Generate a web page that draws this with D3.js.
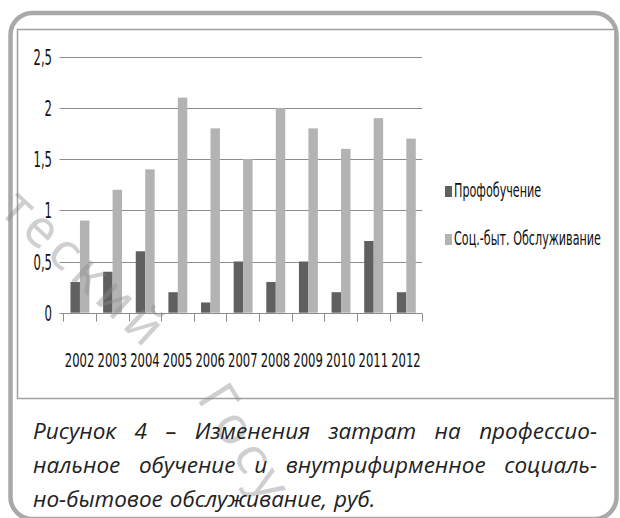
<!DOCTYPE html>
<html><head><meta charset="utf-8">
<script src="https://cdn.jsdelivr.net/npm/d3@7/dist/d3.min.js"></script>
<style>body{margin:0;background:#fff}svg{display:block}</style>
</head><body>
<svg id="c" width="620" height="518"></svg>
<script>
const years = ["2002","2003","2004","2005","2006","2007","2008","2009","2010","2011","2012"];
const profobuchenie = [0.3,0.4,0.6,0.2,0.1,0.5,0.3,0.5,0.2,0.7,0.2];
const socByt = [0.9,1.2,1.4,2.1,1.8,1.5,2.0,1.8,1.6,1.9,1.7];
const seriesNames = ["Профобучение","Соц.-быт. Обслуживание"];
const yTicks = [0,0.5,1,1.5,2,2.5];
const yTickLabels = ["0","0,5","1","1,5","2","2,5"];
const captionLines = [
  ["Рисунок","4","–","Изменения","затрат","на","профессио-"],
  ["нальное","обучение","и","внутрифирменное","социаль-"],
  ["но-бытовое","обслуживание,","руб."]
];
const watermarkParts = ["теский","Госу"];

const colors = ["#606060","#b3b3b3"];
const gridColor = "#8c8c8c";
const chartFont = "'Liberation Sans Narrow','DejaVu Sans Condensed','Liberation Sans',sans-serif";

const svg = d3.select("#c");

// outer rounded frame
svg.append("rect").attr("x",10.5).attr("y",13).attr("width",606).attr("height",506)
  .attr("rx",22).attr("ry",22).attr("fill","#fff").attr("stroke","#a9a9a9").attr("stroke-width",4.5);
// inner chart box
svg.append("rect").attr("x",17.5).attr("y",29.5).attr("width",597.5).attr("height",369)
  .attr("fill","#fff").attr("stroke","#a0a0a0").attr("stroke-width",1.5);

const x = d3.scaleBand().domain(years).range([63.3,422.3]).padding(0);
const x1 = d3.scaleBand().domain([0,1]).range([x.bandwidth()*0.22, x.bandwidth()*0.80]).padding(0);
const y = d3.scaleLinear().domain([0,2.5]).range([312.7,56.7]);

function squeeze(sel, target, sample) {
  let k = 1;
  sel.each(function(){ if (this.textContent === sample) k = target / this.getComputedTextLength(); });
  sel.each(function(){
    const w = this.getComputedTextLength();
    d3.select(this).attr("textLength", w*k).attr("lengthAdjust","spacingAndGlyphs");
  });
}

// gridlines
const grid = svg.append("g");
grid.selectAll("line").data(yTicks).join("line")
  .attr("x1",59.5).attr("x2",x.range()[1])
  .attr("y1",d=>Math.round(y(d))+0.5).attr("y2",d=>Math.round(y(d))+0.5)
  .attr("stroke",gridColor).attr("stroke-width",1);

// x axis ticks
const xAxis = d3.axisBottom(x).tickSize(0).tickFormat("");
const xa = svg.append("g").attr("transform",`translate(0,${Math.round(y(0))+0.5})`).call(xAxis);
xa.select(".domain").remove();
const bounds = years.map(d=>x(d)).concat([x.range()[1]]);
xa.selectAll(".bt").data(bounds).join("line").attr("class","bt")
  .attr("x1",d=>Math.round(d)+0.5).attr("x2",d=>Math.round(d)+0.5)
  .attr("y1",0).attr("y2",8).attr("stroke",gridColor);

// bars
const groups = svg.append("g").selectAll("g").data(years).join("g")
  .attr("transform",d=>`translate(${x(d)},0)`);
groups.selectAll("rect").data((d,i)=>[profobuchenie[i],socByt[i]]).join("rect")
  .attr("x",(d,j)=>x1(j)).attr("width",x1.bandwidth())
  .attr("y",d=>y(d)).attr("height",d=>y(0)-y(d))
  .attr("fill",(d,j)=>colors[j]);

// x labels
const xl = svg.append("g").selectAll("text").data(years).join("text")
  .attr("x",d=>x(d)+x.bandwidth()/2).attr("y",367)
  .attr("text-anchor","middle").attr("font-family",chartFont).attr("font-size",20)
  .attr("fill","#111").text(d=>d);
squeeze(xl, 29.5, "2002");

// y labels
const yl = svg.append("g").selectAll("text").data(yTicks).join("text")
  .attr("x",52).attr("y",d=>y(d)+8)
  .attr("text-anchor","end").attr("font-family",chartFont).attr("font-size",22)
  .attr("fill","#111").text((d,i)=>yTickLabels[i]);
squeeze(yl, 18.5, "2,5");

// legend
const lg = svg.append("g");
const legY = [197,245];
lg.selectAll("rect").data(seriesNames).join("rect")
  .attr("x",445).attr("y",(d,i)=>legY[i]-11).attr("width",7).attr("height",11)
  .attr("fill",(d,i)=>colors[i]);
const lt = lg.selectAll("text").data(seriesNames).join("text")
  .attr("x",454).attr("y",(d,i)=>legY[i])
  .attr("font-family",chartFont).attr("font-size",20).attr("fill","#111").text(d=>d);
squeeze(lt, 147, "Соц.-быт. Обслуживание");

// watermark
const wmStyle = s => s.attr("font-family","'Noto Sans',sans-serif").attr("font-weight",400)
  .attr("font-size",52).attr("fill","rgb(140,140,140)").attr("fill-opacity",0.42);
svg.append("text").attr("transform","translate(-2,212) rotate(43)")
  .attr("letter-spacing",6).call(wmStyle).text(watermarkParts[0]);
svg.append("text").attr("transform","translate(196,398) rotate(58)")
  .attr("letter-spacing",6).call(wmStyle).text(watermarkParts[1]);

// caption
const capFont = "'Open Sans','Noto Sans',sans-serif";
const capY = [439,473,507];
captionLines.forEach((words,li)=>{
  const g = svg.append("g").attr("font-family",capFont).attr("font-style","italic")
    .attr("font-size",22.5).attr("fill","#222");
  const nodes = words.map(w=>g.append("text").attr("y",capY[li]).text(w));
  const widths = nodes.map(n=>n.node().getComputedTextLength());
  const x0 = 33, x1r = 597;
  let gap;
  if (li < captionLines.length-1) gap = (x1r-x0-d3.sum(widths))/(words.length-1);
  else gap = 7;
  let xx = x0;
  nodes.forEach((n,i)=>{ n.attr("x",xx); xx += widths[i]+gap; });
});
</script>
</body></html>
